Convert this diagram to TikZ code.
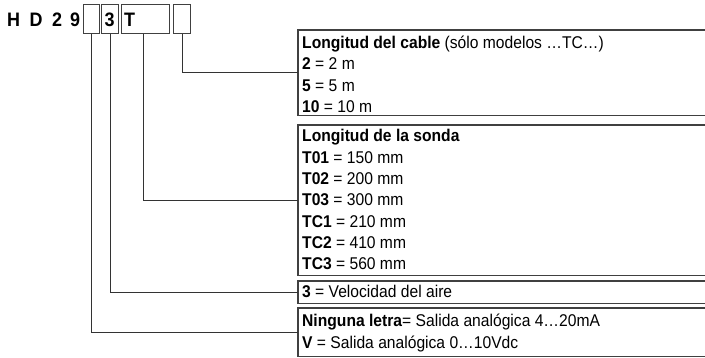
\documentclass[tikz,border=0pt]{standalone}
\usepackage{fontspec}
\setmainfont{Liberation Sans}[FakeStretch=0.92]
\begin{document}
\begin{tikzpicture}[x=1pt,y=-1pt,
  lbl/.style={anchor=base west, inner sep=0pt, font=\fontsize{17}{20}\selectfont},
  ttl/.style={inner sep=0pt, font=\fontsize{19.5}{22}\selectfont\bfseries},
  topbox/.style={draw=black!75, line width=1pt, inner sep=0pt, anchor=north west, minimum height=29pt},
  frame/.style={draw=black!75, line width=1.2pt},
  conn/.style={draw=black!80, line width=0.8pt},
  area/.style={inner sep=0pt, anchor=north west, minimum width=407pt}]
\useasboundingbox (0,0) rectangle (705,358);
% title and code boxes
\node[ttl, anchor=base west] (hd) at (7,27) {H\hspace{9.5pt}D\hspace{9.5pt}2\hspace{8pt}9};
\node[topbox, minimum width=16pt] (b1) at (83,4) {};
\node[topbox, minimum width=17pt] (b2) at (101,4) {};
\node[topbox, minimum width=48pt] (b3) at (121,4) {};
\node[topbox, minimum width=17pt] (b4) at (173,4) {};
\node[ttl, anchor=base] (c3) at (109.5,27) {3};
\node[ttl, anchor=base west] (cT) at (124,27) {T};
% description areas
\node[area, minimum height=85pt] (A) at (298,30) {};
\node[area, minimum height=150pt] (B) at (298,125) {};
\node[area, minimum height=22pt] (C) at (298,281) {};
\node[area, minimum height=48pt] (D) at (298,308) {};
\foreach \n in {A,B,C,D}
  \draw[frame] (\n.north east) -- (\n.north west) -- (\n.south west) -- (\n.south east);
% connectors
\draw[conn] (b4.south) |- (A.west);
\draw[conn] ([xshift=-2pt]b3.south) |- (B.west);
\draw[conn] (b2.south) |- (C.west);
\draw[conn] (b1.south) |- (D.west);
% texts
\node[lbl] (a1) at (302,48.5) {\textbf{Longitud del cable} (sólo modelos …TC…)};
\node[lbl] (a2) at (302,69.8) {\textbf{2} = 2 m};
\node[lbl] (a3) at (302,91.1) {\textbf{5} = 5 m};
\node[lbl] (a4) at (302,112.4) {\textbf{10} = 10 m};
\node[lbl] (s1) at (302,142) {\textbf{Longitud de la sonda}};
\node[lbl] (s2) at (302,163.3) {\textbf{T01} = 150 mm};
\node[lbl] (s3) at (302,184.6) {\textbf{T02} = 200 mm};
\node[lbl] (s4) at (302,205.9) {\textbf{T03} = 300 mm};
\node[lbl] (s5) at (302,227.2) {\textbf{TC1} = 210 mm};
\node[lbl] (s6) at (302,248.5) {\textbf{TC2} = 410 mm};
\node[lbl] (s7) at (302,269.8) {\textbf{TC3} = 560 mm};
\node[lbl] (v1) at (302,297.5) {\textbf{3} = Velocidad del aire};
\node[lbl] (n1) at (302,327) {\textbf{Ninguna letra}= Salida analógica 4…20mA};
\node[lbl] (n2) at (302,348.5) {\textbf{V} = Salida analógica 0…10Vdc};
\end{tikzpicture}
\end{document}
